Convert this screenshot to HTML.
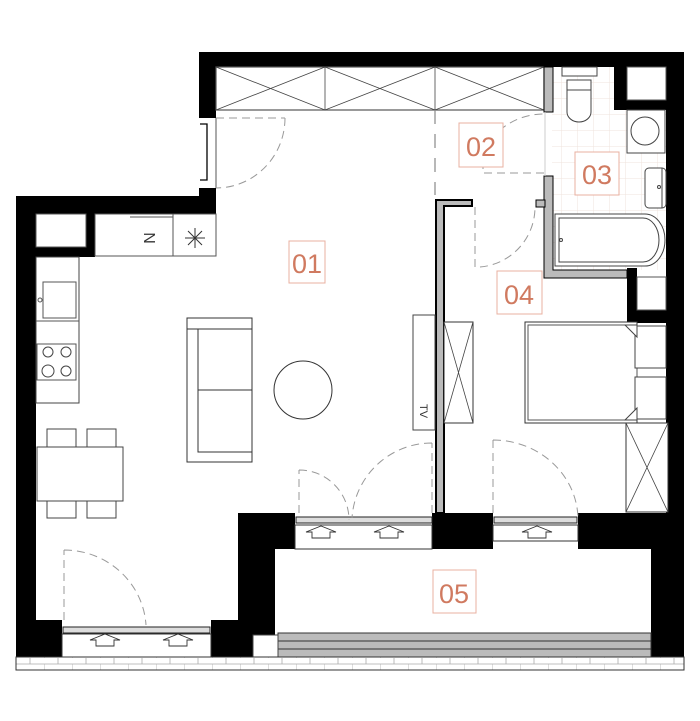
<!DOCTYPE html>
<html><head><meta charset="utf-8"><style>
html,body{margin:0;padding:0;background:#fff;width:700px;height:721px;overflow:hidden}
svg{display:block}
.lbl{font-family:"Liberation Sans",sans-serif;font-size:27px;fill:#d07a60}
</style></head><body>
<svg width="700" height="721" viewBox="0 0 700 721" xmlns="http://www.w3.org/2000/svg">
<defs>
<pattern id="tile" width="16" height="16" patternUnits="userSpaceOnUse" x="546" y="67">
<path d="M16 0V16H0" fill="none" stroke="#efe3dc" stroke-width="1"/>
</pattern>
<pattern id="brick" width="28" height="12" patternUnits="userSpaceOnUse" x="16" y="658">
<path d="M0 6H28M14 0V6M0 6V12" fill="none" stroke="#aaa" stroke-width="0.8"/>
</pattern>
</defs>
<rect x="552" y="67" width="114" height="203" fill="url(#tile)"/>
<g fill="#000">
<rect x="199" y="52" width="485" height="15"/>
<rect x="199" y="52" width="17" height="66"/>
<rect x="199" y="188" width="17" height="26"/>
<rect x="16" y="196" width="200" height="18"/>
<rect x="16" y="196" width="20" height="461"/>
<rect x="36" y="214" width="59" height="43"/>
<rect x="666" y="52" width="18" height="605"/>
<rect x="614" y="67" width="13" height="43"/>
<rect x="614" y="100" width="56" height="10"/>
<rect x="627" y="268" width="10" height="55"/>
<rect x="627" y="310" width="43" height="13"/>
<rect x="238" y="513" width="57" height="36"/>
<rect x="238" y="513" width="37" height="144"/>
<rect x="211" y="620" width="64" height="37"/>
<rect x="36" y="620" width="26" height="37"/>
<rect x="432" y="513" width="61" height="36"/>
<rect x="578" y="513" width="106" height="36"/>
<rect x="651" y="513" width="33" height="144"/>
</g>
<rect x="36" y="214" width="50" height="33" fill="#fff" stroke="#555" stroke-width="1"/>
<rect x="627" y="67" width="39" height="33" fill="#fff" stroke="#555"/>
<rect x="637" y="277" width="29" height="33" fill="#fff" stroke="#555"/>
<path d="M200 124H207V180H200" fill="none" stroke="#000" stroke-width="1.3"/>
<path d="M216 118V188" stroke="#555" stroke-width="1"/>
<rect x="216" y="67" width="328" height="43" fill="#fff" stroke="#555" stroke-width="1.2"/>
<path d="M325 67V110M435 67V110M216 67L325 110M325 67L216 110M325 67L435 110M435 67L325 110M435 67L544 110M544 67L435 110" stroke="#444" stroke-width="0.8"/>
<rect x="544" y="67" width="9" height="45" fill="#bbb" stroke="#000" stroke-width="1"/>
<path d="M544 176H553V270H627V278H544Z" fill="#bbb" stroke="#000" stroke-width="1"/>
<path d="M545 112V176" stroke="#ccc" stroke-width="1"/>
<rect x="562" y="67" width="35" height="9" fill="#fff" stroke="#444"/>
<path d="M567 80H591V112A12 10 0 0 1 567 112Z" fill="#fff" stroke="#444"/>
<path d="M567 90H591" stroke="#444"/>
<rect x="627" y="110" width="38" height="43" fill="#fff" stroke="#444"/>
<circle cx="645" cy="131" r="14" fill="#fff" stroke="#444"/>
<rect x="645" y="168" width="21" height="40" rx="4" fill="#fff" stroke="#444"/>
<path d="M662 168V208" stroke="#444"/>
<circle cx="659" cy="187" r="1.5" fill="none" stroke="#444"/>
<path d="M555 214H645A20 26 0 0 1 645 266H555Z" fill="#fff" stroke="#444"/>
<path d="M559 218H643A16 22 0 0 1 643 262H559Z" fill="none" stroke="#444"/>
<circle cx="561" cy="240" r="1.5" fill="none" stroke="#444"/>
<path d="M436 200H472V206H444V513H436Z" fill="#bbb" stroke="#000" stroke-width="2"/>
<rect x="536" y="200" width="9" height="7" fill="#bbb" stroke="#000"/>
<path d="M435 110V195" stroke="#888" stroke-width="1.2" stroke-dasharray="14 10"/>
<path d="M95 214H216V256H95Z" fill="#fff" stroke="#555"/>
<path d="M173 214V256M130 217H173" stroke="#555"/>
<text x="150" y="244" font-family="Liberation Sans" font-size="16" fill="#333" text-anchor="middle" transform="rotate(90 150 238)">N</text>
<path d="M185 238H205M195 228V248M188 231L202 245M202 231L188 245" stroke="#333" stroke-width="1"/>
<rect x="36" y="257" width="43" height="146" fill="#fff" stroke="#444"/>
<rect x="43" y="282" width="33" height="36" fill="#fff" stroke="#555"/>
<circle cx="40" cy="300" r="2" fill="#fff" stroke="#555"/>
<path d="M36 321H79" stroke="#555"/>
<rect x="37" y="344" width="39" height="36" fill="#fff" stroke="#555"/>
<g fill="none" stroke="#444"><circle cx="48" cy="352" r="5"/><circle cx="66" cy="352" r="5"/><circle cx="48" cy="371" r="6"/><circle cx="66" cy="371" r="5"/></g>
<g fill="#fff" stroke="#444">
<rect x="47" y="429" width="29" height="18"/><rect x="87" y="429" width="29" height="18"/>
<rect x="47" y="501" width="29" height="17"/><rect x="87" y="501" width="29" height="17"/>
<rect x="37" y="447" width="86" height="54"/>
</g>
<rect x="187" y="318" width="65" height="144" fill="#fff" stroke="#333"/>
<path d="M187 329H252M198 329V452H252M198 390H252" fill="none" stroke="#333"/>
<circle cx="303" cy="390" r="29" fill="#fff" stroke="#333"/>
<rect x="413" y="315" width="22" height="115" fill="#fff" stroke="#444"/>
<text x="424" y="415" font-family="Liberation Sans" font-size="11" fill="#333" text-anchor="middle" transform="rotate(90 424 411)">TV</text>
<rect x="444" y="322" width="29" height="101" fill="#fff" stroke="#333"/>
<path d="M444 322L473 423M473 322L444 423" stroke="#444" stroke-width="0.8"/>
<rect x="525" y="322" width="112" height="101" fill="#fff" stroke="#333"/>
<rect x="528" y="325" width="109" height="95" fill="none" stroke="#555"/>
<rect x="635" y="326" width="31" height="42" fill="#fff" stroke="#444"/>
<rect x="635" y="377" width="31" height="42" fill="#fff" stroke="#444"/>
<path d="M625 325L637 337V325ZM625 420L637 408V420Z" fill="#fff" stroke="#444"/>
<rect x="626" y="423" width="42" height="89" fill="#fff" stroke="#333"/>
<path d="M626 423L668 512M668 423L626 512" stroke="#444" stroke-width="0.8"/>
<g fill="#fff" stroke="#333">
<rect x="295" y="525" width="137" height="24"/>
<rect x="493" y="525" width="85" height="16"/>
<rect x="62" y="634" width="149" height="23"/>
</g>
<g fill="#ddd" stroke="#222" stroke-width="1">
<rect x="296" y="517" width="136" height="6"/>
<rect x="494" y="517" width="83" height="6"/>
<rect x="63" y="627" width="147" height="6"/>
</g>
<g fill="#fff" stroke="#333" stroke-width="0.9">
<path d="M312 538V532H306L321 526L336 532H330V538Z"/>
<path d="M380 538V532H374L389 526L404 532H398V538Z"/>
<path d="M528 538V532H522L537 526L552 532H546V538Z"/>
<path d="M96 646V640H90L105 634L120 640H114V646Z"/>
<path d="M169 646V640H163L178 634L193 640H187V646Z"/>
</g>
<rect x="278" y="633" width="373" height="24" fill="#bbb" stroke="#333"/>
<path d="M278 641H651M278 649H651" stroke="#333"/>
<rect x="253" y="635" width="25" height="22" fill="#fff" stroke="#444"/>
<rect x="16" y="657" width="668" height="13" fill="url(#brick)" stroke="#333" stroke-width="1"/>
<g fill="none" stroke="#999" stroke-width="1" stroke-dasharray="8 5">
<path d="M216 118H285M285 118A69 70 0 0 1 216 188"/>
<path d="M544 173H483V165M483 165A61 53 0 0 1 544 114"/>
<path d="M475 207V267H480M480 267A60 60 0 0 0 535 207"/>
<path d="M299 513V470M299 470A50 50 0 0 1 349 520"/>
<path d="M432 513V443M432 443A80 80 0 0 0 352 518"/>
<path d="M493 513V440M493 440A85 80 0 0 1 578 518"/>
<path d="M64 620V550M64 550A82 80 0 0 1 146 625"/>
</g>
<g fill="#fff" stroke="#e8b0a0" stroke-width="1">
<rect x="289" y="241" width="36" height="42"/>
<rect x="459" y="123" width="44" height="44"/>
<rect x="575" y="152" width="44" height="43"/>
<rect x="497" y="271" width="45" height="43"/>
<rect x="433" y="570" width="43" height="43"/>
</g>
<text class="lbl" x="307" y="273" text-anchor="middle">01</text>
<text class="lbl" x="481" y="156" text-anchor="middle">02</text>
<text class="lbl" x="597" y="184" text-anchor="middle">03</text>
<text class="lbl" x="519" y="304" text-anchor="middle">04</text>
<text class="lbl" x="454" y="603" text-anchor="middle">05</text>
</svg>
</body></html>
